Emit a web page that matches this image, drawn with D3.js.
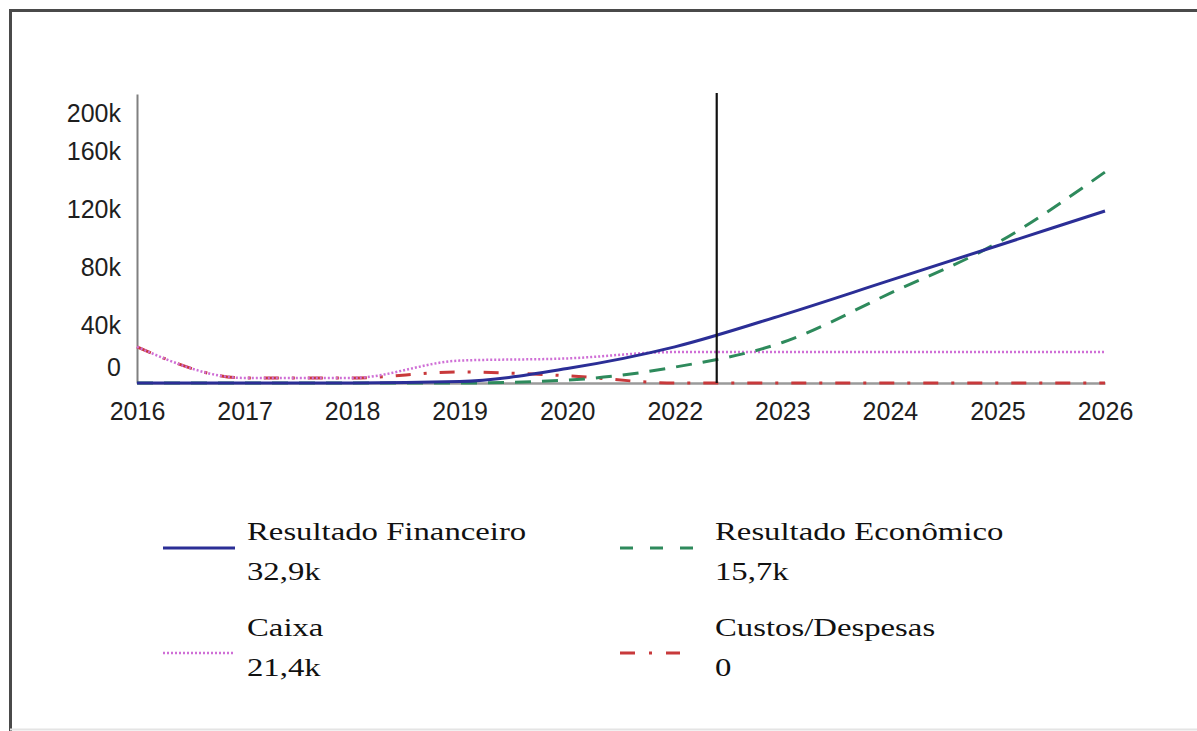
<!DOCTYPE html>
<html>
<head>
<meta charset="utf-8">
<script src="https://cdn.jsdelivr.net/npm/d3@7"></script>
<style>
  html, body { margin: 0; padding: 0; background: #fff; }
  svg { display: block; }
</style>
</head>
<body>
<svg id="chart" width="1197" height="731"></svg>
<script>
// ---- Data ----
const categories = ["2016","2017","2018","2019","2020","2022","2023","2024","2025","2026"];
const resultadoFinanceiro = [0, 0, 0, 1000, 10000, 25000, 47000, 71000, 95000, 119000];
const resultadoEconomico  = [0, 0, 0, 0, 2000, 11000, 28000, 62000, 97000, 146000];
const caixa               = [25000, 3500, 3500, 15500, 17000, 21400, 21400, 21400, 21400, 21400];
const custosDespesas      = [25000, 3500, 3500, 7600, 5000, 0, 0, 0, 0, 0];
const yTicks = [0, 40000, 80000, 120000, 160000, 200000];
const legendNames  = ["Resultado Financeiro", "Resultado Econômico", "Caixa", "Custos/Despesas"];
const legendValues = ["32,9k", "15,7k", "21,4k", "0"];
const markerCategory = "2022";   // "today" marker sits between 2022 and 2023
const markerFraction = 0.39;

// ---- Setup ----
const svg = d3.select("#chart");
const plotLeft = 137, plotRight = 1105, plotTop = 94, plotBottom = 383;

const x = d3.scalePoint().domain(categories).range([plotLeft, plotRight]);
const y = d3.scaleLinear().domain([0, 200000]).range([plotBottom, plotTop]);

// frame
svg.append("line").attr("x1", 10).attr("x2", 1197).attr("y1", 10.5).attr("y2", 10.5)
  .attr("stroke", "#4a4a4a").attr("stroke-width", 3);
svg.append("line").attr("x1", 10.5).attr("x2", 10.5).attr("y1", 9).attr("y2", 731)
  .attr("stroke", "#4a4a4a").attr("stroke-width", 3);
svg.append("line").attr("x1", 10).attr("x2", 1197).attr("y1", 729.5).attr("y2", 729.5)
  .attr("stroke", "#e4e4e4").attr("stroke-width", 2);

// y axis
const yAxis = svg.append("g").attr("transform", `translate(${plotLeft},0)`)
  .call(d3.axisLeft(y).tickValues(yTicks).tickSize(0).tickPadding(16)
        .tickFormat(d => d === 0 ? "0" : (d / 1000) + "k"));
yAxis.select(".domain").attr("stroke", "#808080").attr("stroke-width", 2);
yAxis.selectAll("text")
  .attr("font-family", "'Liberation Sans', Arial, sans-serif")
  .attr("font-size", 25).attr("fill", "#1e1e1e")
  .attr("dy", d => d === 0 ? "-0.3em" : (d === 200000 ? "1.1em" : "0.32em"));

// x axis
const xAxis = svg.append("g").attr("transform", `translate(0,${plotBottom})`)
  .call(d3.axisBottom(x).tickSize(0).tickPadding(19));
xAxis.select(".domain").attr("stroke", "#9a9a9a").attr("stroke-width", 2.5);
xAxis.selectAll("text")
  .attr("font-family", "'Liberation Sans', Arial, sans-serif")
  .attr("font-size", 25).attr("fill", "#1e1e1e");

// lines
const line = d3.line()
  .x((d, i) => x(categories[i]))
  .y(d => y(d))
  .curve(d3.curveMonotoneX);

const series = [
  { values: custosDespesas, color: "#c8393b", width: 3, dash: "15,13,3,13" },
  { values: caixa, color: "#cf6fd6", width: 2.5, dash: "2,2" },
  { values: resultadoEconomico, color: "#2e8a5c", width: 3, dash: "16,11" },
  { values: resultadoFinanceiro, color: "#2b2e96", width: 3, dash: null },
];
series.forEach(s => {
  svg.append("path").datum(s.values)
    .attr("d", line)
    .attr("fill", "none")
    .attr("stroke", s.color)
    .attr("stroke-width", s.width)
    .attr("stroke-dasharray", s.dash);
});

// marker line
const step = x.step();
const mx = x(markerCategory) + markerFraction * step;
svg.append("line").attr("x1", mx).attr("x2", mx).attr("y1", plotTop - 1).attr("y2", plotBottom)
  .attr("stroke", "#111").attr("stroke-width", 2.2);

// legend
const legendItems = [
  { name: legendNames[0], value: legendValues[0], color: "#2b2e96", dash: null, width: 3, sx: 163, sw: 72, tx: 247, by: 540, swy: 548 },
  { name: legendNames[1], value: legendValues[1], color: "#2e8a5c", dash: "13,17", width: 3, sx: 620, sw: 73, tx: 715, by: 540, swy: 548 },
  { name: legendNames[2], value: legendValues[2], color: "#cf6fd6", dash: "2,2", width: 2.5, sx: 163, sw: 72, tx: 247, by: 636, swy: 653 },
  { name: legendNames[3], value: legendValues[3], color: "#c8393b", dash: "15,14,3,14", width: 3, sx: 620, sw: 60, tx: 715, by: 636, swy: 653 },
];
legendItems.forEach(it => {
  svg.append("line").attr("x1", it.sx).attr("x2", it.sx + it.sw)
    .attr("y1", it.swy).attr("y2", it.swy)
    .attr("stroke", it.color).attr("stroke-width", it.width)
    .attr("stroke-dasharray", it.dash);
  const g1 = svg.append("g").attr("transform", `translate(${it.tx},${it.by})`);
  g1.append("text").attr("transform", "scale(1.26,1)")
    .attr("font-family", "'Liberation Serif', 'Times New Roman', serif")
    .attr("font-size", 26).attr("fill", "#111").text(it.name);
  const g2 = svg.append("g").attr("transform", `translate(${it.tx},${it.by + 40})`);
  g2.append("text").attr("transform", "scale(1.26,1)")
    .attr("font-family", "'Liberation Serif', 'Times New Roman', serif")
    .attr("font-size", 26).attr("fill", "#111").text(it.value);
});
</script>
</body>
</html>
